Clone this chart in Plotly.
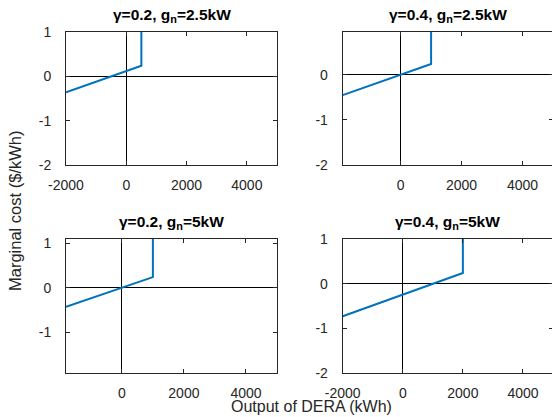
import plotly.graph_objects as go

W, H = 552, 417

titles = ["γ=0.2, g<sub>n</sub>=2.5kW", "γ=0.4, g<sub>n</sub>=2.5kW",
          "γ=0.2, g<sub>n</sub>=5kW", "γ=0.4, g<sub>n</sub>=5kW"]

# marginal cost curves: (output kWh, cost $/kWh)
x1 = [-2000, 500, 500]
y1 = [-0.36, 0.24, 1.0]
x2 = [-1900, 1000, 1000]
y2 = [-0.45, 0.24, 1.0]
x3 = [-1800, 1000, 1000]
y3 = [-0.43, 0.24, 1.1]
x4 = [-2000, 2000, 2000]
y4 = [-0.73, 0.24, 1.0]

xranges = [[-2000, 5000], [-1900, 5000], [-1800, 5000], [-2000, 5000]]
yranges = [[-2, 1], [-2, 0.95], [-1.92, 1.1], [-2, 1]]
xticks = [-2000, 0, 2000, 4000]
xticklabels = ["-2000", "0", "2000", "4000"]
yticks = [-2, -1, 0, 1]
yticklabels = ["-2", "-1", "0", "1"]

# pixel boxes (left, right, top, bottom) in the 552x417 frame
boxes = [(66, 277, 32, 165), (342.7, 553, 32, 165),
         (66, 277, 239, 373), (342.7, 553, 239, 373)]

AX = "#262626"
BLUE = "#0072BD"
FONT = "Liberation Sans, Arial, Helvetica, sans-serif"

fig = go.Figure()
data = [(x1, y1), (x2, y2), (x3, y3), (x4, y4)]
for i, (xs, ys) in enumerate(data):
    suf = "" if i == 0 else str(i + 1)
    fig.add_trace(go.Scatter(x=xs, y=ys, mode="lines",
                             line=dict(color=BLUE, width=2),
                             xaxis="x" + suf, yaxis="y" + suf,
                             showlegend=False, hoverinfo="skip"))

# paper slightly wider than the window so the right-hand boxes are clipped
PW = 560
layout = dict(width=PW, height=H, autosize=False,
              margin=dict(l=0, r=0, t=0, b=0, pad=0, autoexpand=False),
              paper_bgcolor="white", plot_bgcolor="white",
              font=dict(family=FONT, size=14, color=AX))
annotations = []
for i, (l, r, t, b) in enumerate(boxes):
    suf = "" if i == 0 else str(i + 1)
    layout["xaxis" + suf] = dict(
        domain=[l / PW, r / PW], range=xranges[i], anchor="y" + suf,
        tickvals=xticks, ticktext=xticklabels, ticks="inside", ticklen=4,
        tickcolor=AX, automargin=False,
        showline=True, linecolor=AX, linewidth=1,
        mirror="allticks", showgrid=False,
        zeroline=True, zerolinecolor="black", zerolinewidth=1,
        ticklabelstandoff=7, tickfont=dict(size=14, color=AX))
    layout["yaxis" + suf] = dict(
        domain=[1 - b / H, 1 - t / H], range=yranges[i], anchor="x" + suf,
        tickvals=yticks, ticktext=yticklabels, ticks="inside", ticklen=4,
        tickcolor=AX, automargin=False,
        showline=True, linecolor=AX, linewidth=1,
        mirror="allticks", showgrid=False,
        zeroline=True, zerolinecolor="black", zerolinewidth=1,
        ticklabelstandoff=11, tickfont=dict(size=14, color=AX))
    cx = ((l + r) / 2) / PW
    annotations.append(dict(text="<b>" + titles[i] + "</b>", x=cx,
                            y=1 - (t - 17) / H, xref="paper", yref="paper",
                            xanchor="center", yanchor="middle",
                            showarrow=False,
                            font=dict(size=15.5, color="black", family=FONT)))

annotations.append(dict(text="Output of DERA (kWh)", x=311 / PW, y=1 - 406 / H,
                        xref="paper", yref="paper", xanchor="center",
                        yanchor="middle", showarrow=False,
                        font=dict(size=16, color=AX, family=FONT)))
annotations.append(dict(text="Marginal cost ($/kWh)", x=15 / PW, y=1 - 211 / H,
                        xref="paper", yref="paper", xanchor="center",
                        yanchor="middle", textangle=-90, showarrow=False,
                        font=dict(size=16.5, color=AX, family=FONT)))
layout["annotations"] = annotations
fig.update_layout(**layout)
fig.write_html(
    "out.html",
    config={"displayModeBar": False},
    post_script="document.body.style.margin='0';"
                "document.body.style.overflow='hidden';",
)
